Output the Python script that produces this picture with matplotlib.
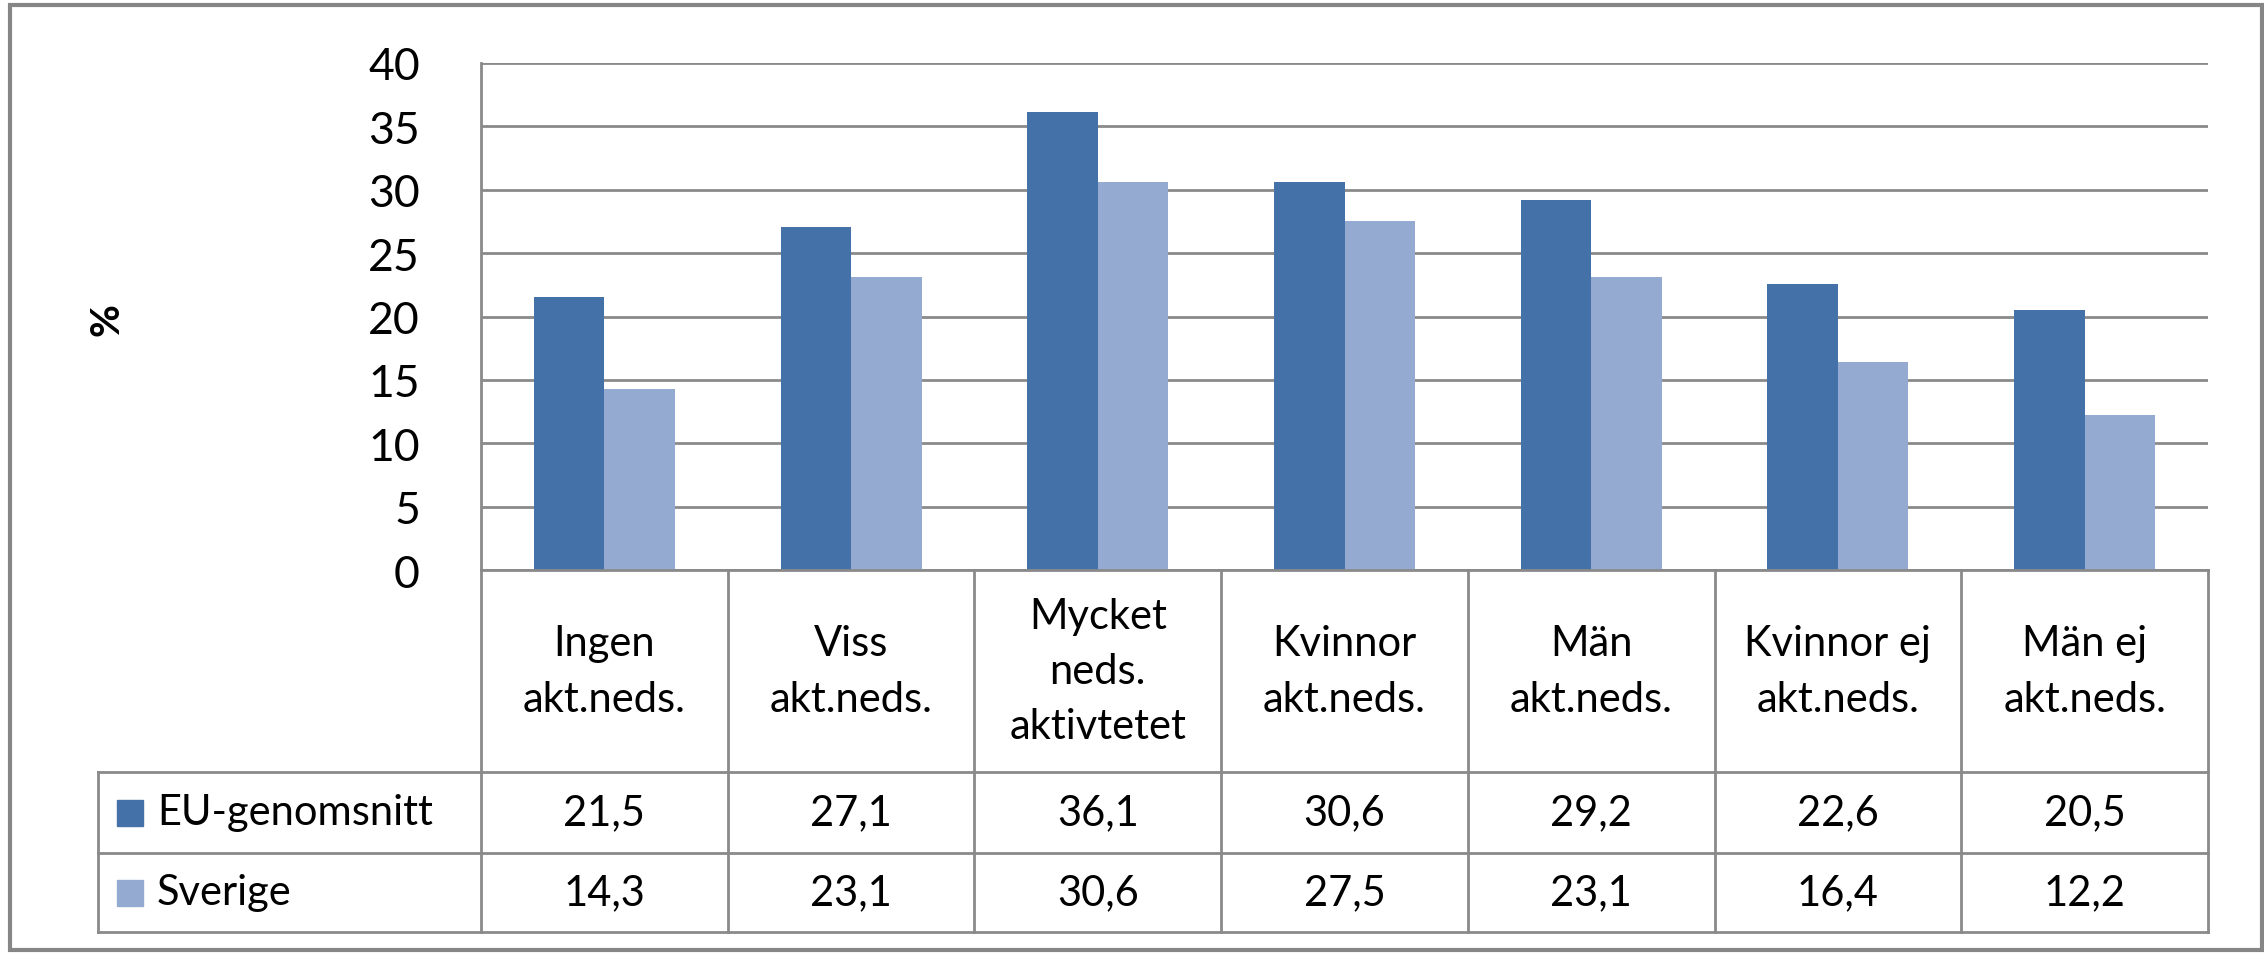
import matplotlib.pyplot as plt
import matplotlib.transforms as mtransforms
from matplotlib.patches import Rectangle
import numpy as np

plt.rcParams['font.family'] = ['Lato', 'DejaVu Sans']

# ---------------------------
# Data
# ---------------------------
categories = ["Ingen\nakt.neds.", "Viss\nakt.neds.", "Mycket\nneds.\naktivtetet",
              "Kvinnor\nakt.neds.", "Män\nakt.neds.", "Kvinnor ej\nakt.neds.", "Män ej\nakt.neds."]
series_names = ["EU-genomsnitt", "Sverige"]
eu_values = [21.5, 27.1, 36.1, 30.6, 29.2, 22.6, 20.5]
se_values = [14.3, 23.1, 30.6, 27.5, 23.1, 16.4, 12.2]
colors = ["#4472A8", "#94AAD1"]
yticks = [0, 5, 10, 15, 20, 25, 30, 35, 40]

W, H = 2264, 954
GRID = "#8a8a8a"
FS = 30

fig = plt.figure(figsize=(W / 100, H / 100), dpi=100)

# pixel helpers (top-left origin)
def fx(px):
    return px / W

def fy(py):
    return 1 - py / H

# outer chart border
fig.add_artist(Rectangle((fx(10), fy(951)), fx(2262) - fx(10), fy(6) - fy(951),
                         transform=fig.transFigure, fill=False, edgecolor="#868686", lw=3))

left, right, top, zero = 481, 2208, 64, 571
ax = fig.add_axes([fx(left), fy(zero), fx(right) - fx(left), fy(top) - fy(zero)])

x = np.arange(len(categories))
bw = 1 / 3.5
ax.bar(x - bw / 2, eu_values, width=bw, color=colors[0], zorder=3)
ax.bar(x + bw / 2, se_values, width=bw, color=colors[1], zorder=3)

ax.set_xlim(-0.5, len(categories) - 0.5)
ax.set_ylim(0, 40)
ax.set_yticks(yticks)
ax.set_yticklabels([str(t) for t in yticks], fontsize=32)
ax.tick_params(axis="y", length=0, pad=44)
ax.set_xticks([])
ax.yaxis.grid(True, color=GRID, lw=2, zorder=0)
for s in ["top", "right", "bottom"]:
    ax.spines[s].set_visible(False)
ax.spines["left"].set_color(GRID)
ax.spines["left"].set_linewidth(2)

fig.text(fx(107), fy(320), "%", rotation=90, fontsize=29, fontweight="bold",
         ha="center", va="center")

# ---------------------------
# Data table below the axis
# ---------------------------
tr = mtransforms.blended_transform_factory(ax.transData, fig.transFigure)
row_top, row1, row2, row_bot = 571, 773, 854, 933
xl = -0.5
legend_left = fx(98)

def hline(py, x0_fig):
    fig.add_artist(plt.Line2D([x0_fig, fx(right)], [fy(py), fy(py)],
                              transform=fig.transFigure, color=GRID, lw=2))

hline(row_top, fx(left))
for py in [row1, row2, row_bot]:
    hline(py, legend_left)
fig.add_artist(plt.Line2D([legend_left, legend_left], [fy(row1), fy(row_bot)],
                          transform=fig.transFigure, color=GRID, lw=2))
for k in range(len(categories) + 1):
    fig.add_artist(plt.Line2D([xl + k, xl + k], [fy(row_top), fy(row_bot)],
                              transform=tr, color=GRID, lw=2))

for i, cat in enumerate(categories):
    fig.text(i, fy((row_top + row1) / 2), cat, transform=tr, ha="center", va="center",
             fontsize=FS, linespacing=1.55)
    fig.text(i, fy((row1 + row2) / 2), f"{eu_values[i]:.1f}".replace(".", ","),
             transform=tr, ha="center", va="center", fontsize=FS)
    fig.text(i, fy((row2 + row_bot) / 2), f"{se_values[i]:.1f}".replace(".", ","),
             transform=tr, ha="center", va="center", fontsize=FS)

for name, col, (r0, r1) in zip(series_names, colors, [(row1, row2), (row2, row_bot)]):
    yc = (r0 + r1) / 2
    fig.add_artist(Rectangle((fx(117), fy(yc + 13)), fx(143) - fx(117), fy(yc - 13) - fy(yc + 13),
                             transform=fig.transFigure, color=col))
    fig.text(fx(157), fy(yc), name, ha="left", va="center", fontsize=FS)

fig.savefig("out.png", dpi=100)
